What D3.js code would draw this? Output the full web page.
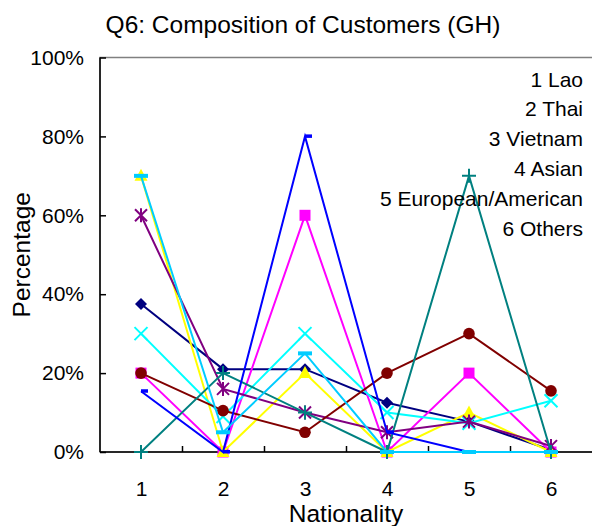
<!DOCTYPE html>
<html>
<head>
<meta charset="utf-8">
<script src="https://cdn.jsdelivr.net/npm/d3@7"></script>
<style>
  html, body { margin: 0; padding: 0; background: #fff; }
  svg { display: block; font-family: "Liberation Sans", Arial, sans-serif; }
</style>
</head>
<body>
<svg id="chart" width="592" height="526"></svg>
<script>
// Survey responses per nationality group (1..6), share of customers
const categories = [1, 2, 3, 4, 5, 6];
const yTicks = [0, 0.2, 0.4, 0.6, 0.8, 1.0];
const legendLabels = ["1 Lao", "2 Thai", "3 Vietnam", "4 Asian", "5 European/American", "6 Others"];

const seriesNavy    = [0.375, 0.21, 0.21, 0.125, 0.077, 0.005];
const seriesMagenta = [0.20, 0.00, 0.60, 0.00, 0.20, 0.00];
const seriesYellow  = [0.70, 0.00, 0.20, 0.00, 0.10, 0.00];
const seriesCyan    = [0.30, 0.09, 0.30, 0.10, 0.073, 0.13];
const seriesPurple  = [0.60, 0.16, 0.10, 0.05, 0.077, 0.015];
const seriesMaroon  = [0.20, 0.105, 0.05, 0.20, 0.30, 0.155];
const seriesTeal    = [0.00, 0.20, 0.10, 0.00, 0.70, 0.00];
const seriesBlue    = [0.154, 0.00, 0.80, 0.05, 0.00, 0.00];
const seriesSky     = [0.70, 0.05, 0.25, 0.00, 0.00, 0.00];

const series = [
  { values: seriesNavy,    color: "#000080", marker: "diamond" },
  { values: seriesMagenta, color: "#FF00FF", marker: "square" },
  { values: seriesYellow,  color: "#FFFF00", marker: "triangle" },
  { values: seriesCyan,    color: "#00FFFF", marker: "x" },
  { values: seriesPurple,  color: "#800080", marker: "star" },
  { values: seriesMaroon,  color: "#800000", marker: "circle" },
  { values: seriesTeal,    color: "#008080", marker: "plus" },
  { values: seriesBlue,    color: "#0000FF", marker: "dash" },
  { values: seriesSky,     color: "#00CCFF", marker: "longdash" }
];

const svg = d3.select("#chart");
const plot = { left: 100, right: 593, top: 57.5, bottom: 452 };

const x = d3.scaleLinear().domain([0.5, 6.5]).range([plot.left, plot.right - 1]);
const y = d3.scaleLinear().domain([0, 1]).range([plot.bottom, plot.top]);

// Plot area border
svg.append("rect")
  .attr("x", plot.left).attr("y", plot.top)
  .attr("width", plot.right - plot.left).attr("height", plot.bottom - plot.top)
  .attr("fill", "none").attr("stroke", "#808080").attr("stroke-width", 1.5);

// Y axis (ticks point into the plot)
const yAxis = svg.append("g")
  .attr("transform", `translate(${plot.left},0)`)
  .call(d3.axisLeft(y).tickValues(yTicks).tickSize(-6).tickPadding(16)
    .tickFormat(d3.format(".0%")));
yAxis.select(".domain").remove();
yAxis.selectAll(".tick line").attr("stroke", "#000").attr("stroke-width", 1.5);
yAxis.selectAll("text").attr("font-size", 21).attr("fill", "#000")
  .attr("font-family", "Liberation Sans, Arial, sans-serif");

// X axis: tick marks sit between categories, labels at category centres
const xMarks = svg.append("g")
  .attr("transform", `translate(0,${plot.bottom})`)
  .call(d3.axisBottom(x).tickValues([1.5, 2.5, 3.5, 4.5, 5.5]).tickSize(-6).tickFormat(""));
xMarks.select(".domain").remove();
xMarks.selectAll(".tick line").attr("stroke", "#000").attr("stroke-width", 1.5);

const xAxis = svg.append("g")
  .attr("transform", `translate(0,${plot.bottom})`)
  .call(d3.axisBottom(x).tickValues(categories).tickSize(0).tickPadding(29)
    .tickFormat(d3.format("d")));
xAxis.select(".domain").remove();
xAxis.selectAll("text").attr("font-size", 21).attr("fill", "#000")
  .attr("font-family", "Liberation Sans, Arial, sans-serif");

// Axis lines
svg.append("line").attr("x1", plot.left).attr("x2", plot.left)
  .attr("y1", plot.top).attr("y2", plot.bottom)
  .attr("stroke", "#000").attr("stroke-width", 1.5);
svg.append("line").attr("x1", plot.left).attr("x2", plot.right)
  .attr("y1", plot.bottom).attr("y2", plot.bottom)
  .attr("stroke", "#000").attr("stroke-width", 1.5);

// Marker shapes
function markerPath(type) {
  switch (type) {
    case "diamond":  return "M0,-6L6,0L0,6L-6,0Z";
    case "square":   return "M-5.5,-5.5H5.5V5.5H-5.5Z";
    case "triangle": return "M0,-7L6.5,5L-6.5,5Z";
    case "x":        return "M-6.5,-6.5L6.5,6.5M-6.5,6.5L6.5,-6.5";
    case "star":     return "M-6,-6L6,6M-6,6L6,-6M0,-7V7";
    case "plus":     return "M-7,0H7M0,-7V7";
    default:         return null;
  }
}

const line = d3.line().x((d, i) => x(categories[i])).y(d => y(d));

series.forEach(s => {
  const g = svg.append("g");
  g.append("path")
    .attr("d", line(s.values))
    .attr("fill", "none")
    .attr("stroke", s.color)
    .attr("stroke-width", 2)
    .attr("stroke-linejoin", "miter");

  const pts = g.selectAll(".m").data(s.values).join("g")
    .attr("transform", (d, i) => `translate(${x(categories[i])},${y(d)})`);

  if (s.marker === "circle") {
    pts.append("circle").attr("r", 5.8).attr("fill", s.color);
  } else if (s.marker === "dash") {
    pts.append("rect").attr("x", 0).attr("y", -2).attr("width", 7).attr("height", 3.5)
      .attr("fill", s.color);
  } else if (s.marker === "longdash") {
    pts.append("rect").attr("x", -7).attr("y", -2).attr("width", 14).attr("height", 4)
      .attr("fill", s.color);
  } else if (["x", "star", "plus"].includes(s.marker)) {
    pts.append("path").attr("d", markerPath(s.marker))
      .attr("fill", "none").attr("stroke", s.color).attr("stroke-width", 2);
  } else {
    pts.append("path").attr("d", markerPath(s.marker)).attr("fill", s.color);
  }
});

// Title
svg.append("text")
  .attr("x", 303).attr("y", 33)
  .attr("text-anchor", "middle")
  .attr("font-size", 24.5)
  .text("Q6: Composition of Customers (GH)");

// Axis titles
svg.append("text")
  .attr("x", 346).attr("y", 522)
  .attr("text-anchor", "middle")
  .attr("font-size", 24.5)
  .text("Nationality");

svg.append("text")
  .attr("transform", `translate(30,${(plot.top + plot.bottom) / 2}) rotate(-90)`)
  .attr("text-anchor", "middle")
  .attr("font-size", 24.5)
  .text("Percentage");

// Category key text box
svg.append("g").selectAll("text").data(legendLabels).join("text")
  .attr("x", 583)
  .attr("y", (d, i) => 79.3 + i * 29.8)
  .attr("dy", "0.35em")
  .attr("text-anchor", "end")
  .attr("font-size", 21)
  .text(d => d);
</script>
</body>
</html>
